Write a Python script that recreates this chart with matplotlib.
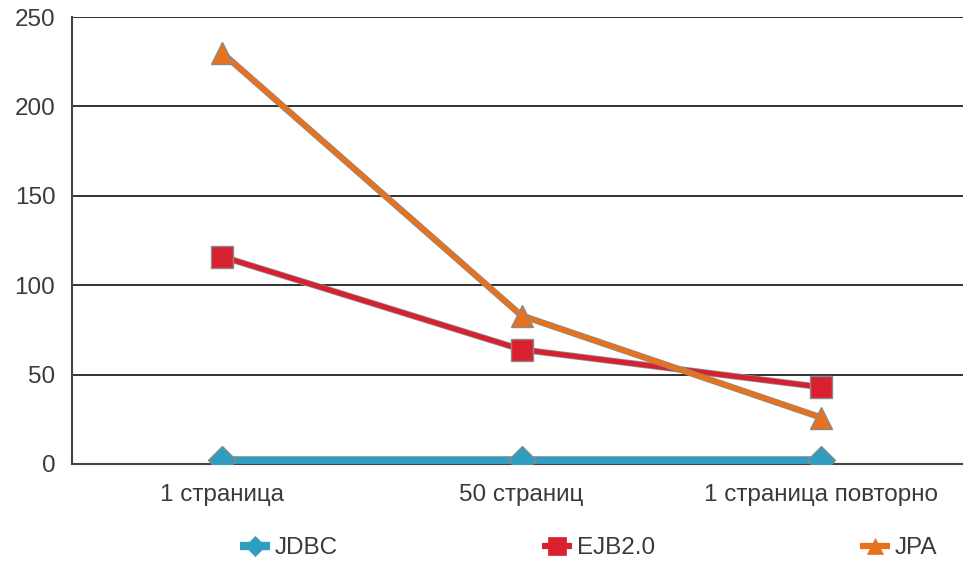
import matplotlib
matplotlib.use("Agg")
import matplotlib.pyplot as plt
import matplotlib.patheffects as pe
from matplotlib.lines import Line2D

categories = ["1 страница", "50 страниц", "1 страница повторно"]
series_names = ["JDBC", "EJB2.0", "JPA"]
jdbc = [2, 2, 2]
ejb = [116, 64, 43]
jpa = [230, 83, 26]
yticks = [0, 50, 100, 150, 200, 250]

colors = ["#2E9DBF", "#D8202F", "#E8711E"]
markers = ["D", "s", "^"]
msizes = [14, 16.5, 16]
lwidths = [5, 3.5, 3.5]
edge = "#8a8a8a"
text_color = "#3a3a3a"
fsize = 17.5

plt.rcParams["font.family"] = ["Liberation Sans", "DejaVu Sans"]

W, H = 963, 562
fig = plt.figure(figsize=(W / 100, H / 100), dpi=100)
ax = fig.add_axes([72 / W, 1 - 464 / H, 891 / W, 447 / H])

x = list(range(len(categories)))
for vals, c, m, ms, lw in zip([jdbc, ejb, jpa], colors, markers, msizes, lwidths):
    ax.plot(x, vals, color=c, lw=lw, zorder=3, solid_capstyle="butt",
            path_effects=[pe.Stroke(linewidth=lw + 1.2, foreground=edge), pe.Normal()])
    ax.plot(x, vals, ls="none", marker=m, ms=ms, mfc=c, mec=edge, mew=1.0, zorder=4)

ax.set_xlim(-0.501, 2.474)
ax.set_ylim(0, 250)
ax.set_yticks(yticks)
ax.set_xticks(x)
ax.set_xticklabels(categories)
ax.tick_params(axis="both", length=0, labelsize=fsize, colors=text_color)
ax.tick_params(axis="x", pad=14.5)
ax.tick_params(axis="y", pad=12)
ax.grid(axis="y", color="#222222", lw=1.3)
ax.set_axisbelow(True)
for s in ["top", "right"]:
    ax.spines[s].set_visible(False)
for s in ["left", "bottom"]:
    ax.spines[s].set_color("#444444")
    ax.spines[s].set_linewidth(1.5)

# Legend entries spread across the bottom of the figure
legend_centers = [255, 557, 875]
ly = 1 - 546 / H
for name, c, m, ms, lw, cx in zip(series_names, colors, markers, msizes, lwidths, legend_centers):
    fig.add_artist(Line2D([(cx - 15) / W, (cx + 15) / W], [ly, ly], color=c, lw=lw + 1,
                          solid_capstyle="butt", transform=fig.transFigure))
    fig.add_artist(Line2D([cx / W], [ly], marker=m, ms=ms * 0.75, mfc=c, mec=c,
                          mew=0.5, transform=fig.transFigure))
    fig.text((cx + 20) / W, ly - 2 / H, name, fontsize=fsize, color=text_color, va="center")

fig.savefig("out.png", dpi=100)
